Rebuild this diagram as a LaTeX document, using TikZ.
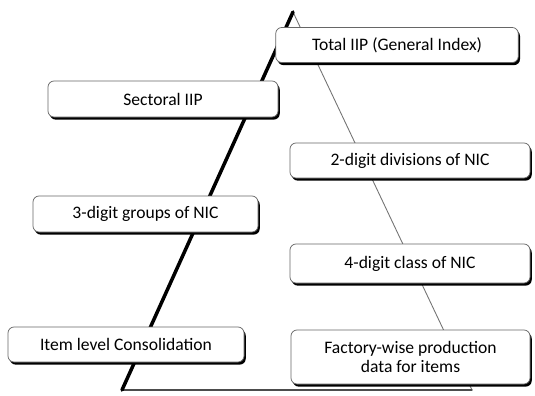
\documentclass[tikz,border=0pt]{standalone}
\usepackage{fontspec}
\setsansfont{Carlito}
\usepackage{tikz}
\usetikzlibrary{shadows, positioning}
\tikzset{level/.style = {
  % Rectangle:
  rectangle,
  draw=black!60, line width=0.4pt,
  rounded corners=1.2mm,
  fill=white,
  drop shadow={shadow xshift=1pt, shadow yshift=-1.5pt, fill=black, opacity=1},
  minimum height=0.7cm,
  % Text
  font=\sffamily\fontsize{10}{11}\selectfont,
  text centered, align=center
  }}
\tikzset{edge/.style = {
  line width=#1,
  line cap=round
  }}

\begin{document}
\begin{tikzpicture}
\useasboundingbox (0,0) rectangle (10.7,7.9);

% TRIANGLE
\coordinate (top) at (5.86,7.66);
\coordinate (left) at (2.44,0.1);
\coordinate (right) at (9.44,0.1);
\fill [white] (top) -- (left) -- (right) -- cycle;
\draw [edge=0.5pt, black!55] (top) -- (right);
\draw [edge=0.6pt, black!70] (left) -- (right);
\draw [edge=2pt, black] (top) -- (left);

% NODES
\node (total) [level, minimum width=4.85cm] at (7.94,7.0) {Total IIP (General Index)};
\node (sectoral) [level, minimum width=4.6cm, minimum height=0.72cm] at (3.26,5.92) {Sectoral IIP};
\node (twodigit) [level, minimum width=4.8cm] at (8.2,4.69) {2-digit divisions of NIC};
\node (threedigit) [level, minimum width=4.5cm, minimum height=0.72cm] at (2.91,3.62) {3-digit groups of NIC};
\node (fourdigit) [level, minimum width=4.8cm, minimum height=0.78cm] at (8.2,2.63) {4-digit class of NIC};
\node (item) [level, minimum width=4.72cm] at (2.52,1.01) {Item level Consolidation};
\node (factory) [level, minimum width=4.78cm, minimum height=1.08cm] at (8.21,0.76) {Factory-wise production\\data for items};
\end{tikzpicture}
\end{document}
